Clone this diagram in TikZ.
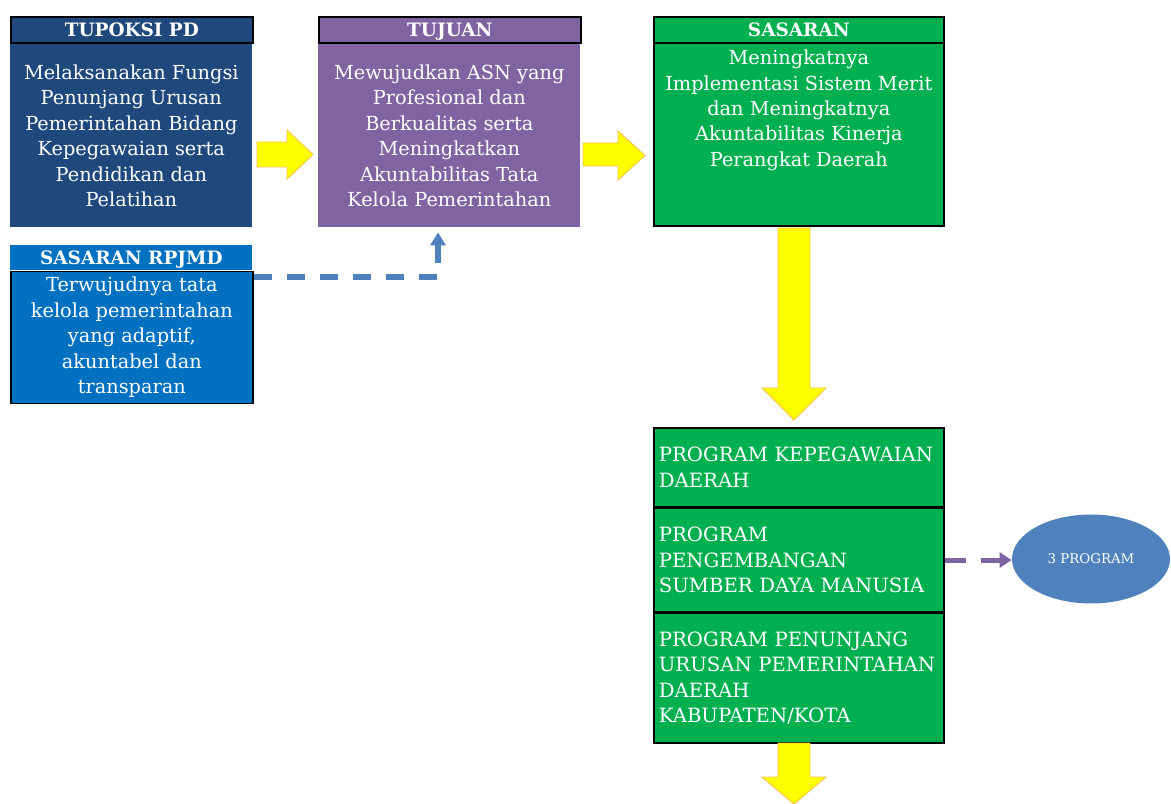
\documentclass[tikz,border=0pt]{standalone}
\usepackage{fontspec}
\setmainfont{DejaVu Serif}
\usetikzlibrary{arrows.meta,shapes.geometric}
\definecolor{tupoksi}{HTML}{1F497D}
\definecolor{tujuan}{HTML}{8064A2}
\definecolor{sasaran}{HTML}{00B050}
\definecolor{rpjmd}{HTML}{0070C0}
\definecolor{garis}{HTML}{4F81BD}
\definecolor{kuning}{HTML}{FFFF00}
\definecolor{tepikuning}{HTML}{F5C242}
\begin{document}
\begin{tikzpicture}[x=0.02cm,y=-0.02cm,
    kepala/.style={anchor=north west,inner sep=0pt,text=white,text height=7.6pt,text depth=0pt,font=\bfseries\fontsize{10.5}{12}\selectfont},
    badan/.style={anchor=north west,inner sep=0pt,text=white,align=center,font=\fontsize{11}{14.5}\selectfont},
    prog/.style={anchor=north west,draw=black,line width=1pt,fill=sasaran,text=white,inner xsep=0.1cm,inner ysep=0pt,text width=5.6cm,align=left,font=\fontsize{11.2}{14.5}\selectfont},
    panah/.style={fill=kuning,draw=tepikuning,line width=0.5pt},
    putus/.style={line width=2.9pt}]
    \useasboundingbox (0,0) rectangle (1171,804);
    % tupoksi
    \node[kepala,fill=tupoksi,draw=black,line width=1pt,minimum width=4.84cm,minimum height=0.52cm] (tupoksi) at (10,16) {TUPOKSI PD};
    \node[badan,fill=tupoksi,minimum width=4.84cm,minimum height=3.66cm] (tupoksiisi) at (tupoksi.south west) {Melaksanakan Fungsi\\Penunjang Urusan\\Pemerintahan Bidang\\Kepegawaian serta\\Pendidikan dan\\Pelatihan};
    % tujuan
    \node[kepala,fill=tujuan,draw=black,line width=1pt,minimum width=5.24cm,minimum height=0.52cm] (tujuan) at (318,16) {TUJUAN};
    \node[badan,fill=tujuan,minimum width=5.24cm,minimum height=3.66cm] (tujuanisi) at (tujuan.south west) {Mewujudkan ASN yang\\Profesional dan\\Berkualitas serta\\Meningkatkan\\Akuntabilitas Tata\\Kelola Pemerintahan};
    % sasaran
    \node[badan,fill=sasaran,draw=black,line width=1pt,minimum width=5.8cm,minimum height=3.66cm] (sasaranisi) at (653,42) {};
    \node[kepala,fill=sasaran,draw=black,line width=1pt,minimum width=5.8cm,minimum height=0.52cm] (sasaran) at (653,16) {SASARAN};
    \node[badan,anchor=north] (sasaranteks) at ([yshift=-0.15cm]sasaranisi.north) {Meningkatnya\\Implementasi Sistem Merit\\dan Meningkatnya\\Akuntabilitas Kinerja\\Perangkat Daerah};
    % rpjmd
    \node[kepala,fill=rpjmd,minimum width=4.84cm,minimum height=0.5cm] (rpjmd) at (10,245) {SASARAN RPJMD};
    \node[badan,fill=rpjmd,draw=black,line width=1pt,minimum width=4.84cm,minimum height=2.64cm] (rpjmdisi) at (rpjmd.south west) {Terwujudnya tata\\kelola pemerintahan\\yang adaptif,\\akuntabel dan\\transparan};
    % program
    \node[prog,minimum height=1.58cm] (prog1) at (653,427) {PROGRAM KEPEGAWAIAN\\DAERAH};
    \node[prog,minimum height=2.06cm] (prog2) at (prog1.south west) {PROGRAM\\PENGEMBANGAN\\SUMBER DAYA MANUSIA};
    \node[prog,minimum height=2.6cm] (prog3) at (prog2.south west) {PROGRAM PENUNJANG\\URUSAN PEMERINTAHAN\\DAERAH\\KABUPATEN/KOTA};
    \node[ellipse,fill=garis,inner sep=0pt,minimum width=3.16cm,minimum height=1.78cm,text=white,font=\fontsize{7.6}{8}\selectfont] (tiga) at (1091,559) {3 PROGRAM};
    % panah kuning
    \draw[panah](257,142)--(287,142)--(287,130)--(313,154.5)--(287,179)--(287,167)--(257,167)--cycle;
    \draw[panah](583,143)--(618,143)--(618,131)--(645,155.5)--(618,180)--(618,166)--(583,166)--cycle;
    \draw[panah](778,228)--(810,228)--(810,388)--(826,388)--(794,420)--(762,388)--(778,388)--cycle;
    \draw[panah](778,743)--(810,743)--(810,777)--(826,777)--(794,804)--(762,777)--(778,777)--cycle;
    % garis putus
    \coordinate (belok) at (438,277);
    \draw[putus,garis,dash pattern=on 0.36cm off 0.3cm,-{Triangle[length=0.26cm,width=0.3cm]},shorten >=0.1cm]
        (rpjmdisi.north east |- belok)--(belok)--(belok |- tujuanisi.south);
    \draw[putus,tujuan,dash pattern=on 0.42cm off 0.3cm,-{Triangle[length=0.24cm,width=0.3cm]}]
        (prog2.east)--(prog2.east -| tiga.west);
\end{tikzpicture}
\end{document}
